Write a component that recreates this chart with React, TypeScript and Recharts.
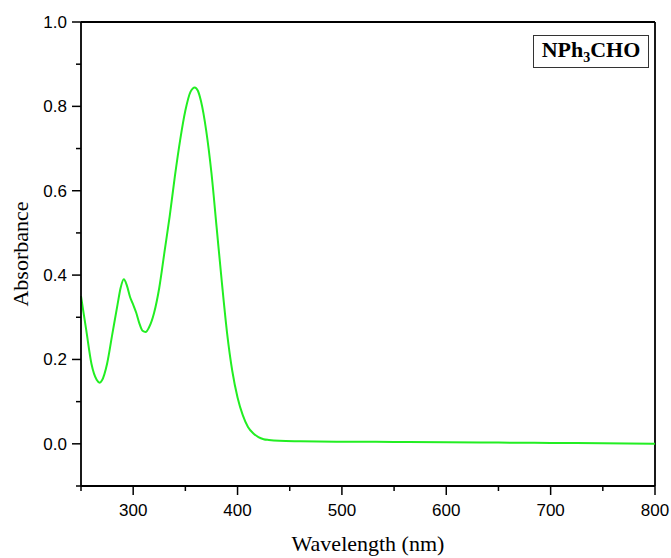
import { LineChart, Line, XAxis, YAxis, ReferenceLine } from 'recharts'

const wavelengths = [
  250, 255, 260, 265, 268, 270, 275, 280, 285, 288, 291, 294, 297, 300, 303, 306, 309, 312, 315, 320,
  325, 330, 335, 340, 345, 350, 355, 359, 362, 365, 370, 375, 380, 385, 390, 395, 400, 405, 410, 415,
  420, 425, 430, 440, 460, 500, 550, 600, 650, 700, 750, 800,
]
const absorbance = [
  0.35, 0.27, 0.19, 0.152, 0.145, 0.15, 0.19, 0.26, 0.33, 0.37, 0.39, 0.375, 0.348, 0.33, 0.31, 0.285, 0.268, 0.265, 0.275, 0.31,
  0.37, 0.455, 0.54, 0.635, 0.72, 0.79, 0.835, 0.845, 0.837, 0.812, 0.742, 0.642, 0.512, 0.382, 0.262, 0.172, 0.11, 0.068, 0.04, 0.025,
  0.016, 0.011, 0.009, 0.007, 0.006, 0.005, 0.0045, 0.004, 0.003, 0.002, 0.0015, 0.0,
]
const xTicks = [250, 300, 350, 400, 450, 500, 550, 600, 650, 700, 750, 800]
const xMajor = [300, 400, 500, 600, 700, 800]
const yTicks = [-0.1, 0, 0.1, 0.2, 0.3, 0.4, 0.5, 0.6, 0.7, 0.8, 0.9, 1.0]
const yMajor = [0, 0.2, 0.4, 0.6, 0.8, 1.0]

const data = wavelengths.map((w, i) => ({ w, a: absorbance[i] }))

const tickFont = 'Liberation Sans, Arial, sans-serif'
const serif = 'Liberation Serif, Times New Roman, serif'

function XTick(props: any) {
  const { x, y, payload } = props
  const major = xMajor.includes(payload.value)
  return (
    <g>
      <line x1={x} x2={x} y1={y} y2={y + (major ? 9 : 5)} stroke="#000" strokeWidth={1.5} />
      {major && (
        <text x={x} y={y + 30} textAnchor="middle" fontSize={17} fontFamily={tickFont} fill="#000">
          {payload.value}
        </text>
      )}
    </g>
  )
}

function YTick(props: any) {
  const { x, y, payload } = props
  const v = Math.round(payload.value * 10) / 10
  const major = yMajor.some((m) => Math.abs(m - v) < 1e-6)
  return (
    <g>
      <line x1={x} x2={x - (major ? 9 : 5)} y1={y} y2={y} stroke="#000" strokeWidth={1.5} />
      {major && (
        <text x={x - 14} y={y + 6} textAnchor="end" fontSize={17} fontFamily={tickFont} fill="#000">
          {v.toFixed(1)}
        </text>
      )}
    </g>
  )
}

export default function App() {
  return (
    <div style={{ position: 'absolute', left: 0, top: 0, width: 671, height: 558, background: '#fff' }}>
      <LineChart width={671} height={558} data={data} margin={{ top: 22, right: 16, bottom: 0, left: 0 }}>
        <XAxis
          dataKey="w"
          type="number"
          domain={[250, 800]}
          ticks={xTicks}
          interval={0}
          tickSize={0}
          tickMargin={0}
          tickLine={false}
          tick={<XTick />}
          height={72}
          axisLine={{ stroke: '#000', strokeWidth: 1.8 }}
          label={{ value: 'Wavelength (nm)', position: 'insideBottom', offset: 7, fontSize: 22, fontFamily: serif, fill: '#000' }}
        />
        <YAxis
          type="number"
          domain={[-0.1, 1.0]}
          ticks={yTicks}
          interval={0}
          tickSize={0}
          tickMargin={0}
          tickLine={false}
          tick={<YTick />}
          width={81}
          axisLine={{ stroke: '#000', strokeWidth: 1.8 }}
          label={{ value: 'Absorbance', angle: -90, position: 'insideLeft', offset: 20, fontSize: 22, fontFamily: serif, fill: '#000', style: { textAnchor: 'middle' } }}
        />
        <ReferenceLine y={1.0} stroke="#000" strokeWidth={1.8} />
        <ReferenceLine x={800} stroke="#000" strokeWidth={1.8} />
        <Line type="monotone" dataKey="a" stroke="#22ee22" strokeWidth={2} dot={false} isAnimationActive={false} />
      </LineChart>
      <div
        style={{
          position: 'absolute',
          left: 533,
          top: 35,
          width: 116,
          height: 33,
          border: '1px solid #333',
          boxSizing: 'border-box',
          fontFamily: serif,
          fontWeight: 'bold',
          fontSize: 22,
          display: 'flex',
          alignItems: 'center',
          justifyContent: 'center',
          color: '#000',
          lineHeight: 1,
        }}
      >
        <span>
          NPh<sub style={{ fontSize: 14, verticalAlign: -5 }}>3</sub>CHO
        </span>
      </div>
    </div>
  )
}
